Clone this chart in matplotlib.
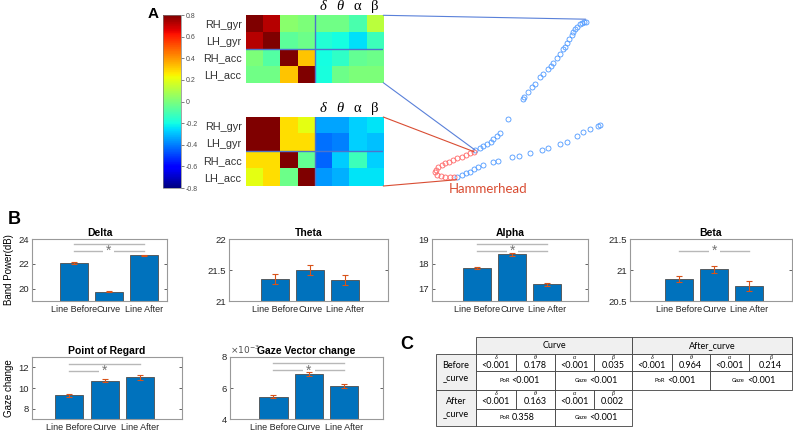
import numpy as np
import matplotlib.pyplot as plt
from matplotlib.patches import Rectangle, ConnectionPatch

plt.rcParams['font.family'] = ['Liberation Sans', 'DejaVu Sans']

W, H = 793, 436

# ---------------- data ----------------
imu_rows = ["RH_gyr", "LH_gyr", "RH_acc", "LH_acc"]
band_syms = ["δ", "θ", "α", "β"]

corr_line = [[0.80, 0.72, 0.03, 0.00, -0.02, -0.02, -0.10, 0.12],
             [0.72, 0.80, -0.06, -0.03, -0.17, -0.20, -0.25, -0.12],
             [0.00, -0.08, 0.80, 0.32, -0.20, -0.15, -0.05, -0.03],
             [-0.02, -0.02, 0.32, 0.80, -0.19, -0.03, 0.00, 0.00]]
corr_hammer = [[0.80, 0.80, 0.28, 0.20, -0.34, -0.34, -0.27, -0.24],
               [0.80, 0.80, 0.28, 0.28, -0.42, -0.40, -0.27, -0.30],
               [0.28, 0.28, 0.80, -0.05, -0.44, -0.28, -0.12, -0.27],
               [0.20, 0.28, -0.03, 0.80, -0.36, -0.32, -0.24, -0.24]]
cbar_ticks = [-0.8, -0.6, -0.4, -0.2, 0, 0.2, 0.4, 0.6, 0.8]

# trajectory (figure pixel units)
upper_x = [475.0, 480.0, 483.3, 486.7, 490.7, 493.3, 496.7, 500.0, 508.3, 522.7, 524.0,
           528.3, 531.7, 535.0, 540.0, 543.3, 548.3, 550.7, 553.3, 556.7, 560.0, 563.3,
           565.3, 567.3, 569.3, 571.7, 572.7, 575.0, 577.3, 580.0, 582.3, 584.3, 585.7]
upper_y = [150.0, 148.3, 146.0, 144.0, 141.7, 139.3, 136.0, 132.7, 119.0, 99.3, 97.3,
           91.7, 87.3, 84.0, 77.3, 74.0, 69.3, 66.0, 62.7, 58.3, 54.0, 49.3,
           46.7, 43.3, 39.3, 35.0, 32.3, 29.3, 26.7, 24.3, 23.3, 22.3, 21.7]
lower_x = [456.7, 461.7, 466.0, 470.0, 474.0, 478.3, 483.3, 493.3, 498.3, 511.7, 519.3,
           530.0, 541.7, 548.3, 560.0, 566.7, 576.7, 583.3, 590.0, 598.3, 600.0]
lower_y = [176.7, 175.0, 173.3, 171.7, 169.3, 166.7, 165.0, 162.3, 160.7, 157.3, 155.7,
           153.3, 150.0, 147.7, 144.0, 141.7, 136.0, 131.7, 129.3, 125.7, 124.7]
hammer_x = [474.0, 470.0, 466.0, 461.7, 457.3, 453.3, 449.3, 445.0, 441.7, 438.3, 436.0,
            435.3, 437.3, 440.7, 445.0, 450.0, 454.0]
hammer_y = [151.7, 153.3, 155.0, 156.7, 158.3, 160.0, 161.7, 163.3, 165.0, 167.3, 170.0,
            172.3, 174.7, 176.3, 177.3, 177.3, 177.0]

conds = ["Line Before", "Curve", "Line After"]
delta_mean = [22.05, 19.76, 22.69]
delta_err = [0.06, 0.07, 0.06]
theta_mean = [21.35, 21.50, 21.34]
theta_err = [0.08, 0.075, 0.08]
alpha_mean = [17.85, 18.38, 17.17]
alpha_err = [0.04, 0.05, 0.05]
beta_mean = [20.85, 21.01, 20.74]
beta_err = [0.05, 0.055, 0.08]
por_mean = [9.30, 10.72, 11.02]
por_err = [0.15, 0.15, 0.25]
gaze_mean = [5.45e-3, 6.92e-3, 6.12e-3]
gaze_err = [0.10e-3, 0.12e-3, 0.15e-3]

# significance bars: (bar i, bar j, height); star sits on the first one at bar 2
delta_sig = [(0, 1, 23.07), (1, 2, 23.07), (0, 2, 23.6)]
alpha_sig = [(0, 1, 18.51), (1, 2, 18.51), (0, 2, 18.81)]
beta_sig = [(0, 1, 21.31), (1, 2, 21.31)]
por_sig = [(0, 1, 11.62), (0, 2, 12.31)]
gaze_sig = [(0, 1, 7.13e-3), (1, 2, 7.13e-3), (0, 2, 7.61e-3)]

cmp_groups = ["Curve", "After_curve"]
cmp_rows = ["Before\n_curve", "After\n_curve"]
p_bands = [[["<0.001", "0.178", "<0.001", "0.035"], ["<0.001", "0.964", "<0.001", "0.214"]],
           [["<0.001", "0.163", "<0.001", "0.002"], None]]
p_por = [["<0.001", "<0.001"], ["0.358", None]]
p_gaze = [["<0.001", "<0.001"], ["<0.001", None]]

# ---------------- figure ----------------
fig = plt.figure(figsize=(W / 100, H / 100), dpi=100)


def px_axes(left, top, right, bottom):
    return fig.add_axes([left / W, 1 - bottom / H, (right - left) / W, (bottom - top) / H])


# ---- panel A: heatmaps ----
def heatmap(ax, data):
    im = ax.imshow(np.array(data), cmap='jet', vmin=-0.8, vmax=0.8, aspect='auto',
                   interpolation='nearest')
    ax.axvline(3.5, color=(0.3, 0.45, 0.8), lw=1)
    ax.axhline(1.5, color=(0.3, 0.45, 0.8), lw=1)
    ax.set_xticks([])
    ax.set_yticks(range(4), imu_rows, fontsize=7.8, color=(0.2, 0.2, 0.2))
    ax.tick_params(length=0, pad=3)
    for s in ax.spines.values():
        s.set_visible(False)
    for k, sym in enumerate(band_syms):
        ax.text(4 + k, -0.62, sym, ha='center', va='bottom', fontsize=10.5,
                family='Liberation Serif', style='italic' if k < 2 else 'normal')
    return im


ax_top = px_axes(245.7, 15.3, 383.3, 82.7)
im = heatmap(ax_top, corr_line)
ax_bot = px_axes(245.7, 117, 383.3, 186)
heatmap(ax_bot, corr_hammer)

cax = px_axes(163.3, 15, 180.7, 188)
cb = fig.colorbar(im, cax=cax, ticks=cbar_ticks)
cb.ax.set_yticklabels([f"{np.round(t, 1):g}" for t in cbar_ticks])
cb.ax.tick_params(labelsize=5, length=2, width=0.5, colors=(0.3, 0.3, 0.3), pad=1.5)
cb.outline.set_edgecolor((0.5, 0.5, 0.5))
cb.outline.set_linewidth(0.5)

# ---- panel B: bar charts ----
bar_color = (0, 0.447, 0.741)
err_color = (0.85, 0.325, 0.098)
sig_color = (0.72, 0.72, 0.72)


def bar_panel(rect, title, means, errs, ylim, yticks, xlim, sig=None, ylabel=None,
              ticklabels=None):
    ax = px_axes(*rect)
    x = np.arange(1, 4)
    ax.bar(x, means, width=0.8, color=bar_color, edgecolor=(0.3, 0.3, 0.3), lw=0.6, zorder=2)
    ax.errorbar(x, means, yerr=errs, fmt='none', ecolor=err_color, elinewidth=0.8,
                capsize=2, capthick=0.8, zorder=3)
    if sig:
        star_y = sig[0][2]
        for i, j, y in sig:
            ax.plot([x[i], x[j]], [y, y], color=sig_color, lw=1,
                    zorder=1 if y == star_y else 1.6)
        ax.text(x[1], star_y, '*', ha='center', va='center', fontsize=10,
                color=(0.45, 0.45, 0.45), zorder=1.5,
                bbox=dict(facecolor='white', edgecolor='none', pad=2.2))
    ax.set_xlim(xlim)
    ax.set_ylim(ylim)
    if ticklabels is None:
        ticklabels = [f"{t:g}" for t in yticks]
    ax.set_yticks(yticks, ticklabels)
    ax.set_xticks(x, conds)
    ax.tick_params(direction='in', length=2, width=0.5, right=True, labelsize=6.8,
                   colors=(0.15, 0.15, 0.15), pad=2)
    ax.tick_params(axis='x', pad=3, labelsize=6.5)
    for s in ax.spines.values():
        s.set_color((0.6, 0.6, 0.6))
        s.set_linewidth(0.8)
    ax.set_title(title, fontsize=7.5, fontweight='bold', pad=2)
    if ylabel:
        ax.set_ylabel(ylabel, fontsize=7, labelpad=3)
    return ax


bar_panel((32, 239, 167, 301), "Delta", delta_mean, delta_err, (19, 24), [20, 22, 24],
          (-0.19, 3.67), delta_sig, ylabel="Band Power(dB)")
bar_panel((229, 239, 388, 301), "Theta", theta_mean, theta_err, (21, 22), [21, 21.5, 22],
          (-0.32, 4.22))
bar_panel((432, 239, 588, 301), "Alpha", alpha_mean, alpha_err, (16.5, 19), [17, 18, 19],
          (-0.30, 4.16), alpha_sig)
bar_panel((630, 239, 792, 301), "Beta", beta_mean, beta_err, (20.5, 21.5), [20.5, 21, 21.5],
          (-0.41, 4.22), beta_sig)
bar_panel((32, 357, 182, 419), "Point of Regard", por_mean, por_err, (7, 13), [8, 10, 12],
          (-0.05, 4.18), por_sig, ylabel="Gaze change")
axg = bar_panel((230, 357, 382.7, 419), "Gaze Vector change", gaze_mean, gaze_err,
                (4e-3, 8e-3), [4e-3, 6e-3, 8e-3], (-0.23, 4.09), gaze_sig,
                ticklabels=["4", "6", "8"])
axg.text(0, 1.02, r"$\times10^{-3}$", transform=axg.transAxes, ha='left', va='bottom',
         fontsize=6.5, color=(0.3, 0.3, 0.3))

# ---- overlay: trajectory, connectors, table, labels ----
ov = fig.add_axes([0, 0, 1, 1])
ov.set_xlim(0, W)
ov.set_ylim(H, 0)
ov.axis('off')

blue_c = (0.3, 0.6, 1.0)
red_c = (1.0, 0.4, 0.4)
ov.plot(upper_x, upper_y, 'o', mfc='none', mec=blue_c, ms=3.6, mew=0.6)
ov.plot(lower_x, lower_y, 'o', mfc='none', mec=blue_c, ms=3.6, mew=0.6)
ov.plot(hammer_x, hammer_y, 'o', mfc='none', mec=red_c, ms=3.6, mew=0.6)
ov.text(488, 189, "Hammerhead", ha='center', va='center', fontsize=9.5, family='Lato',
        color=(0.85, 0.3, 0.2))

line_blue = (0.35, 0.5, 0.85)
line_red = (0.85, 0.3, 0.2)
for axh, row, pt, col in [(ax_top, -0.5, (upper_x[-1], upper_y[-1] - 2.5), line_blue),
                          (ax_top, 3.5, (upper_x[0], upper_y[0]), line_blue),
                          (ax_bot, -0.5, (hammer_x[0], hammer_y[0]), line_red),
                          (ax_bot, 3.5, (lower_x[0], lower_y[0] + 3), line_red)]:
    con = ConnectionPatch(xyA=(7.5, row), coordsA=axh.transData, xyB=pt, coordsB=ov.transData,
                          color=col, lw=0.8)
    fig.add_artist(con)

# table
tab_cols = [436, 476, 515.5, 555, 593.5, 632, 671.5, 710, 748.5, 792]
tab_rows = [337, 353.5, 371, 389.5, 408.5, 426]
grid_c = (0.25, 0.25, 0.25)
head_fc = (0.94, 0.94, 0.94)
tfont = 'Lato'


def cell(x0, y0, x1, y1, fc='white'):
    ov.add_patch(Rectangle((x0, y0), x1 - x0, y1 - y0, fc=fc, ec=grid_c, lw=0.6))


for g, name in enumerate(cmp_groups):
    x0, x1 = tab_cols[1 + 4 * g], tab_cols[5 + 4 * g]
    cell(x0, tab_rows[0], x1, tab_rows[1], head_fc)
    ov.text((x0 + x1) / 2, (tab_rows[0] + tab_rows[1]) / 2, name, ha='center', va='center',
            fontsize=6.5, family=tfont)

for r, rname in enumerate(cmp_rows):
    y0, ym, y1 = tab_rows[1 + 2 * r], tab_rows[2 + 2 * r], tab_rows[3 + 2 * r]
    cell(tab_cols[0], y0, tab_cols[1], y1, head_fc)
    ov.text((tab_cols[0] + tab_cols[1]) / 2, (y0 + y1) / 2, rname, ha='center', va='center',
            fontsize=6.5, family=tfont, linespacing=1.5)
    for g in range(2):
        vals = p_bands[r][g]
        if vals is None:
            continue
        for k in range(4):
            x0, x1 = tab_cols[1 + 4 * g + k], tab_cols[2 + 4 * g + k]
            cell(x0, y0, x1, ym)
            xc = (x0 + x1) / 2
            ov.text(xc, y0 + 4.3, band_syms[k], ha='center', va='center', fontsize=4.2,
                    family='Liberation Serif', style='italic')
            ov.text(xc, y0 + 11.5, vals[k], ha='center', va='center', fontsize=6.5, family=tfont)
        for h, (lab, val) in enumerate([("PoR", p_por[r][g]), ("Gaze", p_gaze[r][g])]):
            x0, x1 = tab_cols[1 + 4 * g + 2 * h], tab_cols[3 + 4 * g + 2 * h]
            cell(x0, ym, x1, y1)
            xc = (x0 + x1) / 2
            yc = (ym + y1) / 2
            ov.text(xc - 6, yc + 0.5, lab, ha='right', va='center', fontsize=4.2, family=tfont)
            ov.text(xc - 4, yc, val, ha='left', va='center', fontsize=6.5, family=tfont)

ov.text(153, 14, "A", ha='center', va='center', fontsize=11, fontweight='bold')
ov.text(14, 219, "B", ha='center', va='center', fontsize=13, fontweight='bold')
ov.text(407, 344.5, "C", ha='center', va='center', fontsize=13, fontweight='bold')

fig.savefig("out.png", dpi=100)
